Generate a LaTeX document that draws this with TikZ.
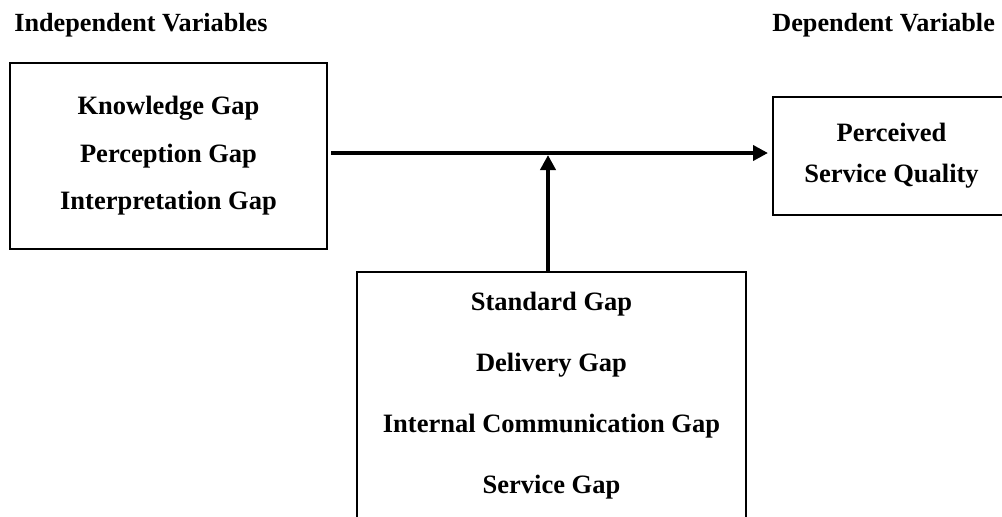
\documentclass[tikz,border=0pt]{standalone}
\usepackage{fontspec}
\setmainfont{Liberation Serif}
\usetikzlibrary{arrows.meta}

\begin{document}
\begin{tikzpicture}[x=0.5pt,y=-0.5pt,>={Triangle[length=7.5pt,width=7.5pt]},
  box/.style={draw,line width=1pt,align=center,font=\fontsize{13.25}{#1}\selectfont\bfseries},
  head/.style={anchor=west,inner sep=0pt,font=\fontsize{13.1}{15}\selectfont\bfseries},
  link/.style={->,line width=2pt}]
  \useasboundingbox (0,0) rectangle (1002,516);

  % headings
  \node[head] (ivar) at (14,25) {Independent Variables};
  \node[head] (dvar) at (772,25) {Dependent Variable};

  % boxes
  \node[box=23.75,minimum width=158.5pt,minimum height=93pt] (indep) at (168.5,156)
    {Knowledge Gap\\Perception Gap\\Interpretation Gap};
  \node[box=20.5,minimum width=118.5pt,minimum height=59pt] (qual) at (891.5,156)
    {Perceived\\Service Quality};
  \node[box=30.5,minimum width=194.5pt,minimum height=124pt] (mod) at (551.5,396)
    {Standard Gap\\Delivery Gap\\Internal Communication Gap\\Service Gap};

  \coordinate (meet) at (548,153);

  % arrows
  \draw[link,shorten <=1.5pt,shorten >=2pt] (indep.east |- meet) -- (qual.west |- meet);
  \draw[link,shorten >=1pt] (mod.north -| meet) -- (meet);
\end{tikzpicture}
\end{document}
